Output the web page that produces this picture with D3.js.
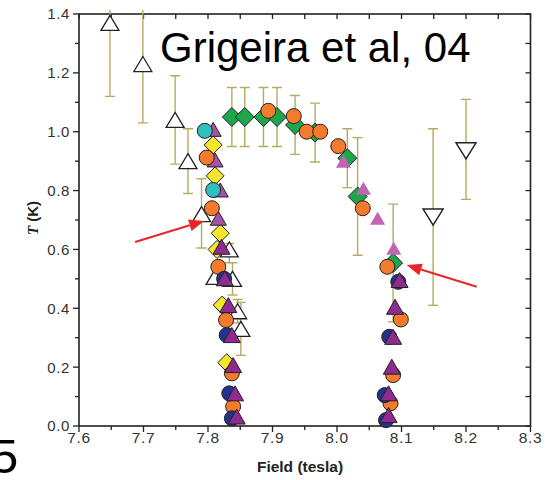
<!DOCTYPE html>
<html><head><meta charset="utf-8">
<script src="https://cdn.jsdelivr.net/npm/d3@7"></script>
<style>html,body{margin:0;padding:0;background:#fff;}svg{display:block;}</style>
</head><body>
<svg id="c" width="553" height="480"></svg>
<script>
// ---- data (field in tesla, T in K) ----
const xTicks = [7.6,7.7,7.8,7.9,8.0,8.1,8.2,8.3];
const yTicks = [0.0,0.2,0.4,0.6,0.8,1.0,1.2,1.4];
const title = "Grigeira et al, 04";
const panelLabel = "5";
// open up-triangles with error bars [field, T, lo, hi]
const openUp = [
  [7.648,1.37,1.12,1.62],[7.699,1.23,1.03,1.43],[7.749,1.04,0.89,1.19],[7.769,0.90,0.79,1.01],
  [7.790,0.72,0.605,0.84],[7.833,0.60,0.555,0.62],[7.811,0.507,null,null],[7.838,0.50,0.445,0.555],
  [7.846,0.39,0.35,0.43],[7.851,0.33,0.24,0.42]
];
// open down-triangles [field, T, lo, hi]
const openDown = [[8.149,0.71,0.41,1.01],[8.200,0.935,0.77,1.11]];
// green diamonds [field, T, err]
const green = [
  [7.837,1.05,0.1],[7.857,1.05,0.1],[7.886,1.05,0.1],[7.907,1.05,0.1],[7.935,1.023,0.1],
  [7.966,0.997,0.1],[8.016,0.91,0.1],[8.032,0.78,0.2],[8.087,0.554,0.2]
];
const yellow = [[7.808,0.955],[7.811,0.85],[7.819,0.655],[7.814,0.60],[7.822,0.411],[7.829,0.215]];
const magentaLeft = [[7.808,1.008],[7.811,0.904],[7.819,0.802],[7.816,0.706]];
const cyan = [[7.795,1.003],[7.808,0.802]];
const orange = [
  [7.798,0.912],[7.806,0.74],[7.816,0.541],[7.828,0.36],[7.837,0.179],[7.839,0.066],
  [7.8935,1.071],[7.933,1.053],[7.953,1.0],[7.974,1.0],[8.002,0.951],[8.040,0.74],
  [8.078,0.541],[8.099,0.362],[8.087,0.173],[8.083,0.077]
];
const navy = [[7.825,0.50],[7.829,0.309],[7.833,0.111],[7.837,0.026],[8.095,0.49],[8.081,0.303],[8.074,0.105],[8.076,0.02]];
const magentaRight = [[8.010,0.90],[8.041,0.808],[8.063,0.706],[8.088,0.604]];
const purple = [
  [7.821,0.609],[7.826,0.502],[7.8315,0.411],[7.837,0.309],[7.839,0.207],[7.842,0.111],[7.8445,0.032],
  [8.097,0.496],[8.090,0.405],[8.087,0.303],[8.085,0.2015],[8.080,0.111],[8.080,0.037]
];
// arrows [fromField, fromT, toField, toT]
const arrows = [[7.687,0.625,7.794,0.697],[8.2166,0.473,8.108,0.547]];

// ---- drawing ----
const svg = d3.select("#c");
const x = d3.scaleLinear().domain([7.6,8.3]).range([79,530.5]);
const y = d3.scaleLinear().domain([0,1.4]).range([426,14]);
const font = "'Liberation Sans', Arial, Helvetica, sans-serif";
const frameCol = "#222", ebCol = "#b6aa62", stroke = "#222";

svg.append("defs").append("clipPath").attr("id","clip")
  .append("rect").attr("x",x(7.6)).attr("y",y(1.4)-4).attr("width",x(8.3)-x(7.6)).attr("height",y(0)-y(1.4)+4);

// axes
const left = svg.append("g").attr("transform",`translate(${x(7.6)},0)`)
  .call(d3.axisLeft(y).tickValues(d3.range(0,1.41,0.1)).tickSize(0).tickFormat(""));
left.selectAll(".tick line").remove();
left.select(".domain").remove();
d3.range(0,15).forEach(i=>{
  const v=i/10, major = i%2===0;
  svg.append("line").attr("x1",x(7.6)-(major?6:4)).attr("x2",x(7.6)).attr("y1",y(v)).attr("y2",y(v)).attr("stroke",frameCol).attr("stroke-width",1.3);
  svg.append("line").attr("x1",x(8.3)-5).attr("x2",x(8.3)).attr("y1",y(v)).attr("y2",y(v)).attr("stroke",frameCol).attr("stroke-width",1.3);
});
d3.range(0,15).forEach(i=>{
  const v=7.6+i*0.05, major=i%2===0;
  svg.append("line").attr("x1",x(v)).attr("x2",x(v)).attr("y1",y(0)).attr("y2",y(0)+(major?6:4)).attr("stroke",frameCol).attr("stroke-width",1.3);
  svg.append("line").attr("x1",x(v)).attr("x2",x(v)).attr("y1",y(1.4)).attr("y2",y(1.4)+5).attr("stroke",frameCol).attr("stroke-width",1.3);
});
svg.selectAll(".yl").data(yTicks).join("text").attr("class","yl")
  .attr("x",x(7.6)-9).attr("y",d=>y(d)).attr("dy","0.36em").attr("text-anchor","end")
  .attr("font-family",font).attr("font-size",15).attr("letter-spacing",0.6).attr("fill","#333")
  .text(d=>d.toFixed(1));
svg.selectAll(".xl").data(xTicks).join("text").attr("class","xl")
  .attr("x",d=>x(d)).attr("y",443).attr("text-anchor","middle")
  .attr("font-family",font).attr("font-size",15.5).attr("letter-spacing",0.6).attr("fill","#333")
  .text(d=>d.toFixed(1));
svg.append("rect").attr("x",x(7.6)).attr("y",y(1.4)).attr("width",x(8.3)-x(7.6)).attr("height",y(0)-y(1.4))
  .attr("fill","none").attr("stroke",frameCol).attr("stroke-width",1.6);

// axis titles
svg.append("text").attr("x",300).attr("y",472).attr("text-anchor","middle")
  .attr("font-family",font).attr("font-weight","bold").attr("font-size",15.5).attr("fill","#222").text("Field (tesla)");
const yt = svg.append("text").attr("transform","translate(38,218) rotate(-90)").attr("text-anchor","middle")
  .attr("font-weight","bold").attr("font-size",15).attr("fill","#222");
yt.append("tspan").attr("font-family","'Liberation Serif', 'Times New Roman', serif").attr("font-style","italic").text("T");
yt.append("tspan").attr("font-family",font).text(" (K)");

// title and panel label
svg.append("text").attr("x",160).attr("y",62).attr("font-family",font).attr("font-size",42).attr("fill","#000").text(title);
svg.append("text").attr("x",-9).attr("y",473).attr("font-family",font).attr("font-size",49).attr("fill","#000").text(panelLabel);

// error bars
const eb = svg.append("g").attr("clip-path","url(#clip)").attr("stroke",ebCol).attr("stroke-width",1.4);
function errBar(f,lo,hi){
  if(lo==null) return;
  eb.append("line").attr("x1",x(f)).attr("x2",x(f)).attr("y1",y(lo)).attr("y2",y(hi));
  [lo,hi].forEach(v=>{ if(v<=1.4) eb.append("line").attr("x1",x(f)-5).attr("x2",x(f)+5).attr("y1",y(v)).attr("y2",y(v)); });
}
openUp.forEach(d=>errBar(d[0],d[2],d[3]));
openDown.forEach(d=>errBar(d[0],d[2],d[3]));
green.forEach(d=>errBar(d[0],d[1]-d[2],d[1]+d[2]));

// marker helpers
function tri(w,h,down){ return down ? `M${-w/2},${-h/2}L${w/2},${-h/2}L0,${h/2}Z` : `M0,${-h/2}L${w/2},${h/2}L${-w/2},${h/2}Z`; }
function dia(r){ return `M0,${-r}L${r},0L0,${r}L${-r},0Z`; }
function pathSeries(data, d, fill, st, sw){
  svg.append("g").selectAll("path").data(data).join("path")
    .attr("transform",p=>`translate(${x(p[0])},${y(p[1])})`).attr("d",d)
    .attr("fill",fill).attr("stroke",st).attr("stroke-width",sw);
}
function circleSeries(data, fill){
  svg.append("g").selectAll("circle").data(data).join("circle")
    .attr("cx",p=>x(p[0])).attr("cy",p=>y(p[1])).attr("r",7.5)
    .attr("fill",fill).attr("stroke",stroke).attr("stroke-width",1);
}
pathSeries(openUp, tri(18,15,false), "#fff", "#222", 1.3);
pathSeries(openDown, tri(20,16,true), "#fff", "#222", 1.5);
pathSeries(green, dia(9.5), "#1ea64b", stroke, 1);
pathSeries(yellow, dia(9), "#f6e62b", stroke, 1);
pathSeries(magentaLeft, tri(16,14,false), "#a652a6", stroke, 1);
circleSeries(cyan, "#2fbfbe");
circleSeries(orange, "#f47b2b");
circleSeries(navy, "#22338d");
pathSeries(magentaRight, tri(15,13,false), "#c363b3", "none", 0);
pathSeries(purple, tri(17,15,false), "#8f2a8f", stroke, 1);

// arrows
arrows.forEach(a=>{
  const x1=x(a[0]),y1=y(a[1]),x2=x(a[2]),y2=y(a[3]);
  const ang=Math.atan2(y2-y1,x2-x1), L=15, Wd=6;
  const bx=x2-L*Math.cos(ang), by=y2-L*Math.sin(ang);
  svg.append("line").attr("x1",x1).attr("y1",y1).attr("x2",bx).attr("y2",by).attr("stroke","#e8262a").attr("stroke-width",2);
  const px=-Math.sin(ang)*Wd, py=Math.cos(ang)*Wd;
  svg.append("path").attr("d",`M${x2},${y2}L${bx+px},${by+py}L${bx-px},${by-py}Z`).attr("fill","#e8262a");
});
</script>
</body></html>
